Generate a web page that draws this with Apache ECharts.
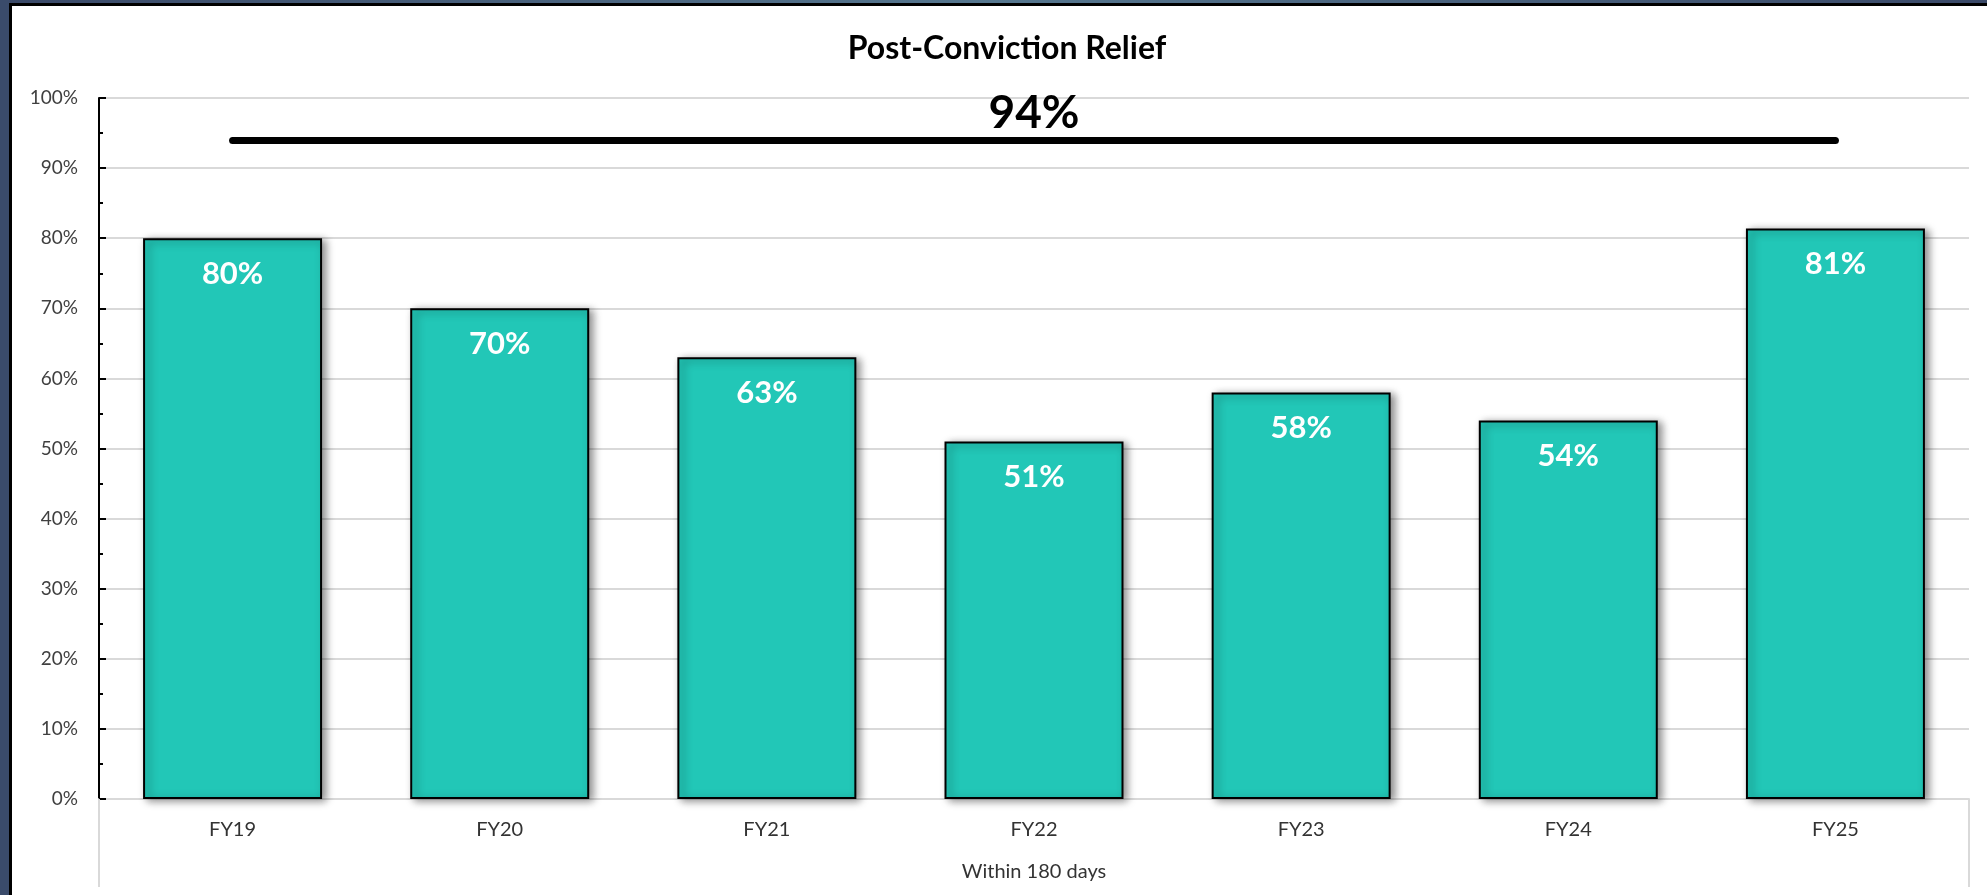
<!DOCTYPE html>
<html>
<head>
<meta charset="utf-8">
<title>Post-Conviction Relief</title>
<script src="https://cdn.jsdelivr.net/npm/echarts@6/dist/echarts.min.js"></script>
<style>
  html, body { margin: 0; padding: 0; background: #ffffff; overflow: hidden; }
  #page { position: absolute; left: 0; top: 0; width: 1987px; height: 895px; background: #ffffff; }
  /* slide frame: dark band and black rule along the top and the left edge */
  #topband { position: absolute; left: 0; top: 0; width: 100%; height: 3px;
             background: linear-gradient(90deg, #3a4968 0%, #56778f 50%, #3a4968 100%); }
  #toprule { position: absolute; left: 9px; top: 3px; width: 100%; height: 3px; background: #000; }
  #leftband { position: absolute; left: 0; top: 0; width: 9px; height: 100%; background: #3a4b6b; }
  #leftrule { position: absolute; left: 9px; top: 3px; width: 3px; height: 100%; background: #000; }
  #chart { position: absolute; left: 0; top: 0; width: 1987px; height: 895px; }
</style>
</head>
<body>
<div id="page">
  <div id="topband"></div>
  <div id="leftband"></div>
  <div id="toprule"></div>
  <div id="leftrule"></div>
  <div id="chart"></div>
</div>
<script>
// Fiscal years on the category axis
const categories = ['FY19', 'FY20', 'FY21', 'FY22', 'FY23', 'FY24', 'FY25'];
// Share of post-conviction relief cases resolved within 180 days (%)
const within180 = [80, 70, 63, 51, 58, 54, 81.4];
// Group label under the fiscal years
const groupLabels = ['Within 180 days'];
// Target line value (%)
const targetValue = 94;
// Value axis range and step
const yMin = 0, yMax = 100, yStep = 10;

const FONT = 'Lato, "Open Sans", sans-serif';
const GRID = '#d9d9d9';

const chart = echarts.init(document.getElementById('chart'), null, { renderer: 'canvas' });

chart.setOption({
  animation: false,
  backgroundColor: 'transparent',
  title: {
    text: 'Post-Conviction Relief',
    left: 1002,
    top: 28,
    textAlign: 'center',
    textStyle: { fontFamily: FONT, fontWeight: 'bold', fontSize: 32, color: '#000' }
  },
  grid: { left: 99, right: 18, top: 98, bottom: 96, containLabel: false },
  xAxis: [
    {
      type: 'category',
      data: categories,
      position: 'bottom',
      axisLine: { show: true, lineStyle: { color: GRID, width: 2 } },
      axisTick: { show: false },
      axisLabel: { margin: 21, fontFamily: FONT, fontSize: 20, color: '#333333' }
    },
    {
      type: 'category',
      data: groupLabels,
      position: 'bottom',
      axisLine: { show: false },
      axisTick: { show: true, inside: false, length: 88, lineStyle: { color: GRID, width: 2 } },
      axisLabel: { margin: 63, fontFamily: FONT, fontSize: 20, color: '#333333' },
      splitLine: { show: false }
    }
  ],
  yAxis: {
    type: 'value',
    min: yMin,
    max: yMax,
    interval: yStep,
    axisLine: { show: true, lineStyle: { color: '#000', width: 2 } },
    axisTick: { show: true, inside: true, length: 7, lineStyle: { color: '#000', width: 2 } },
    minorTick: { show: true, splitNumber: 2, length: 4, lineStyle: { color: '#000', width: 2 } },
    axisLabel: { margin: 21, fontFamily: FONT, fontSize: 19, color: '#404040', formatter: '{value}%' },
    splitLine: { show: true, lineStyle: { color: GRID, width: 2 } }
  },
  series: [
    {
      type: 'bar',
      name: 'Within 180 days',
      xAxisIndex: 0,
      data: within180,
      barCategoryGap: '33%',
      itemStyle: {
        color: '#22c7b7',
        borderColor: '#000',
        borderWidth: 2,
        shadowColor: 'rgba(0,0,0,0.45)',
        shadowBlur: 8,
        shadowOffsetX: 4,
        shadowOffsetY: 2
      },
      label: {
        show: true,
        position: 'insideTop',
        distance: 20,
        fontFamily: FONT,
        fontWeight: 'bold',
        fontSize: 31,
        color: '#ffffff',
        formatter: p => Math.round(p.value) + '%'
      },
      markLine: {
        silent: true,
        symbol: ['none', 'none'],
        lineStyle: { type: 'solid', color: '#000', width: 7, cap: 'round' },
        label: {
          show: true,
          position: 'middle',
          distance: 4,
          fontFamily: FONT,
          fontWeight: 'bold',
          fontSize: 46,
          color: '#000',
          formatter: targetValue + '%'
        },
        emphasis: { disabled: true },
        data: [[
          { coord: [categories[0], targetValue] },
          { coord: [categories[categories.length - 1], targetValue] }
        ]]
      }
    }
  ]
});
</script>
</body>
</html>
